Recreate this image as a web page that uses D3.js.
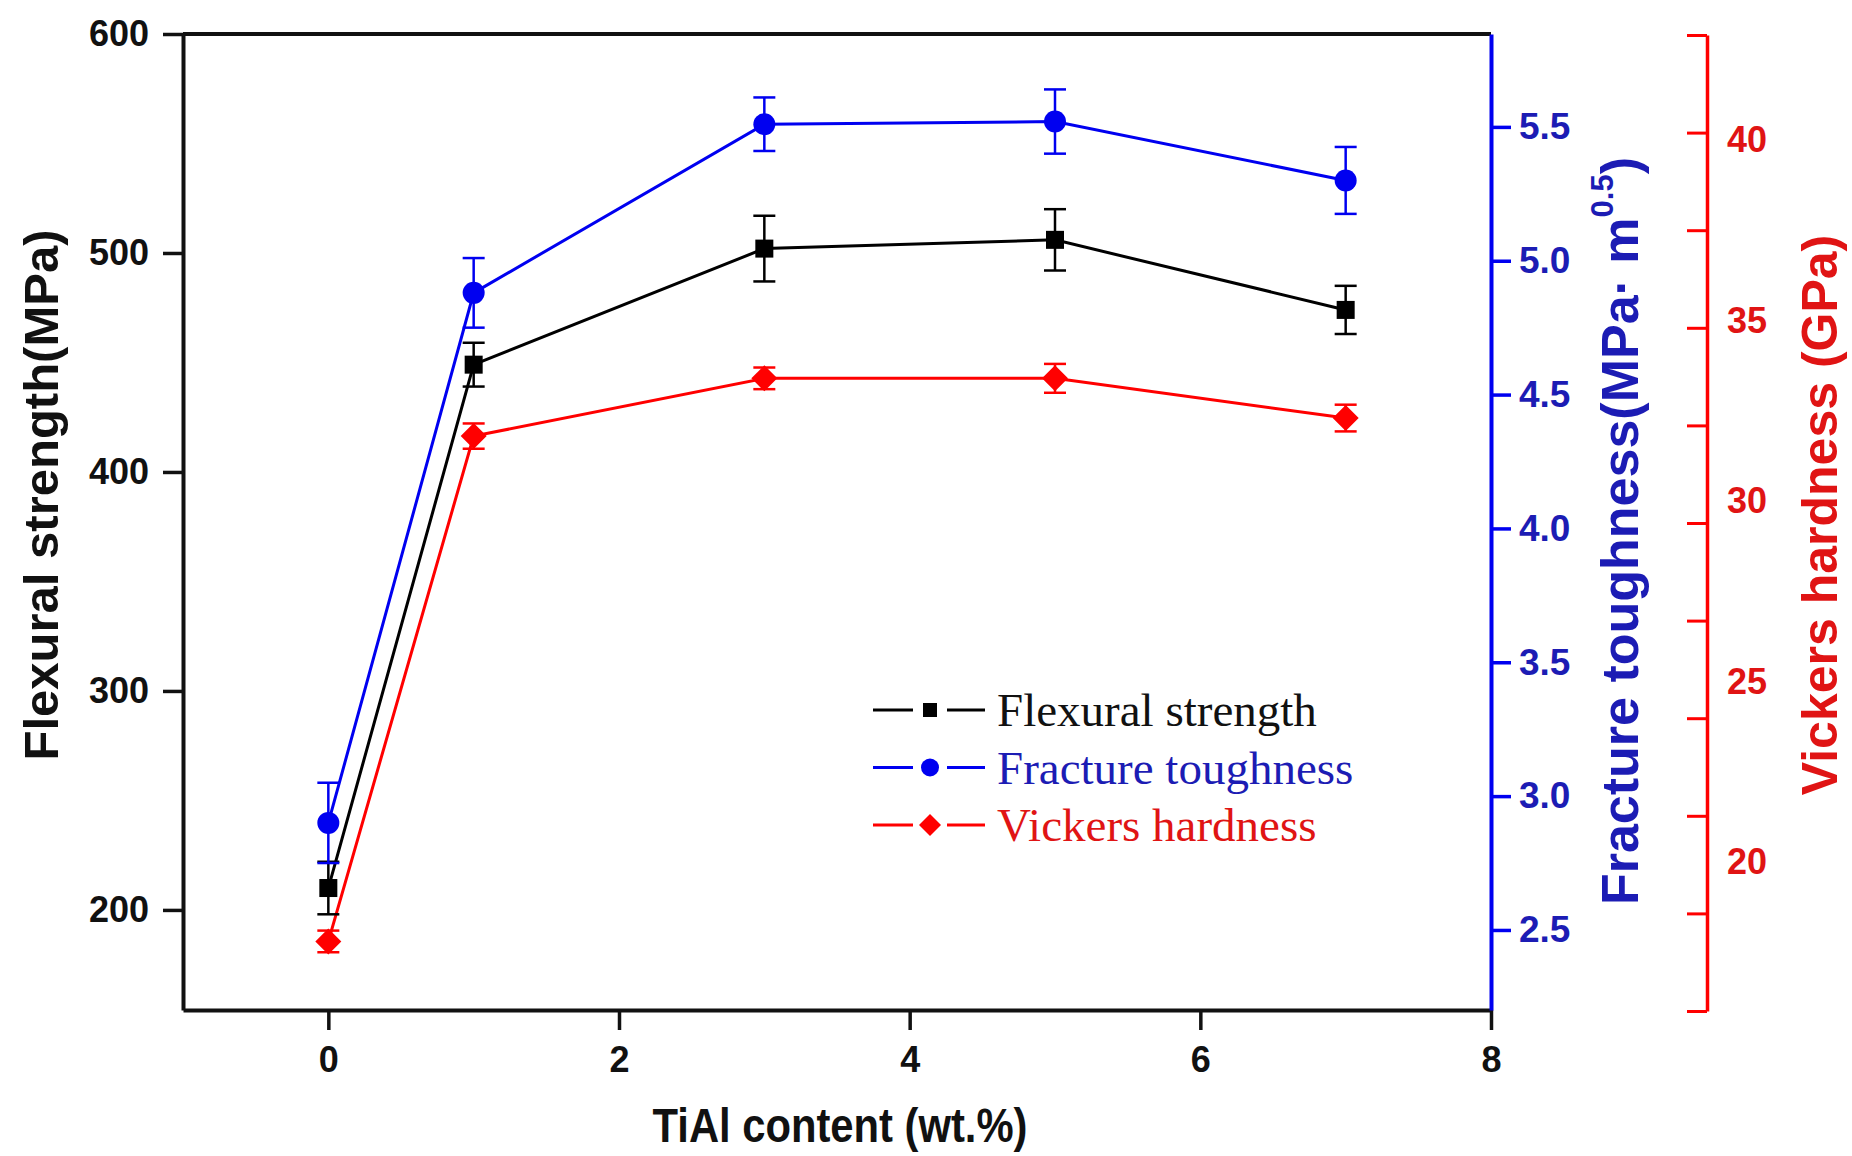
<!DOCTYPE html>
<html><head><meta charset="utf-8">
<script src="https://cdn.jsdelivr.net/npm/d3@7"></script>
<style>
body{margin:0;background:#fff}
svg text{font-family:"Liberation Sans",Arial,sans-serif;font-weight:bold}
</style>
</head><body>
<svg id="c" width="1852" height="1156"></svg>
<script>
// ---------------- data ----------------
const content      = [0, 1, 3, 5, 7];            // TiAl content (wt.%)
const flexural     = [210, 449, 502, 506, 474];  // MPa
const flexuralErr  = [12, 10, 15, 14, 11];
const toughness    = [2.90, 4.88, 5.51, 5.52, 5.30]; // MPa·m^0.5
const toughnessErr = [0.15, 0.13, 0.10, 0.12, 0.125];
const hardness     = [17.8, 31.8, 33.4, 33.4, 32.3]; // GPa
const hardnessErr  = [0.3, 0.35, 0.3, 0.4, 0.37];

const xMajor     = [0, 2, 4, 6, 8];
const xMinor     = [-1, 1, 3, 5, 7];
const leftMajor  = [200, 300, 400, 500, 600];
const leftMinor  = [250, 350, 450, 550];
const blueMajor  = [2.5, 3.0, 3.5, 4.0, 4.5, 5.0, 5.5];
const blueMinor  = [2.25, 2.75, 3.25, 3.75, 4.25, 4.75, 5.25, 5.75];
const redLabels  = [20, 25, 30, 35, 40];
const redMarkMajor = [0, 1, 2, 3, 4, 5, 6, 7, 8, 9, 10];
const redMarkMinor = [0.5, 1.5, 2.5, 3.5, 4.5, 5.5, 6.5, 7.5, 8.5, 9.5];
const seriesNames = ["Flexural strength", "Fracture toughness", "Vickers hardness"];

// ---------------- layout ----------------
const L = 183, R = 1491, T = 34, B = 1010, RED_X = 1707;
const BLUE = "#0000f0", BLUE_T = "#1c1cb4", RED = "#ff0000", RED_T = "#e01414";

const svg = d3.select("#c");
const x  = d3.scaleLinear().domain([-1, 8]).range([L, R]);
const yL = d3.scaleLinear().domain([154.3, 600]).range([B, T]);
const yB = d3.scaleLinear().domain([2.201, 5.847]).range([B, T]);
const yR = d3.scaleLinear().domain([15.9, 42.94]).range([B, T]);
const redMark = d3.scaleLinear().domain([0, 10]).range([1011, 35]);

function styleAxis(g, color, width, fs) {
  g.select(".domain").attr("stroke", color).attr("stroke-width", width);
  g.selectAll(".tick line").attr("stroke", color).attr("stroke-width", width - 0.5);
  g.selectAll(".tick text").attr("fill", color).attr("font-size", fs)
    .attr("font-family", "Liberation Sans, Arial, sans-serif").attr("font-weight", "bold");
}

// bottom axis
const gx = svg.append("g").attr("transform", `translate(0,${B})`);
gx.call(d3.axisBottom(x).tickValues(xMinor).tickSize(12).tickFormat("").tickSizeOuter(0));
gx.call(d3.axisBottom(x).tickValues(xMajor).tickSize(20).tickPadding(16).tickSizeOuter(0).tickFormat(d3.format("d")));
styleAxis(gx, "#111", 4, 36);

// left axis
const gl = svg.append("g").attr("transform", `translate(${L},0)`);
gl.call(d3.axisLeft(yL).tickValues(leftMinor).tickSize(10).tickFormat("").tickSizeOuter(0));
gl.call(d3.axisLeft(yL).tickValues(leftMajor).tickSize(20).tickPadding(14).tickSizeOuter(0));
styleAxis(gl, "#111", 4, 36);

// top frame
svg.append("line").attr("x1", x(-1)).attr("x2", x(8)).attr("y1", yL(600)).attr("y2", yL(600))
  .attr("stroke", "#111").attr("stroke-width", 4);

// blue right axis
const gb = svg.append("g").attr("transform", `translate(${R},0)`);
gb.call(d3.axisRight(yB).tickValues(blueMinor).tickSize(12).tickFormat("").tickSizeOuter(0));
gb.call(d3.axisRight(yB).tickValues(blueMajor).tickSize(20).tickPadding(8).tickSizeOuter(0).tickFormat(d3.format(".1f")));
styleAxis(gb, BLUE, 4, 37);
gb.selectAll(".tick text").attr("fill", BLUE_T);

// red offset axis: tick marks
const gr = svg.append("g").attr("transform", `translate(${RED_X},0)`);
gr.call(d3.axisLeft(redMark).tickValues(redMarkMinor).tickSize(13).tickFormat("").tickSizeOuter(0));
gr.call(d3.axisLeft(redMark).tickValues(redMarkMajor).tickSize(20).tickFormat("").tickSizeOuter(0));
styleAxis(gr, RED, 3.5, 36);
// red labels
const grl = svg.append("g").attr("transform", `translate(${RED_X},0)`);
grl.call(d3.axisRight(yR).tickValues(redLabels).tickSize(0).tickPadding(20).tickSizeOuter(0));
grl.select(".domain").remove();
styleAxis(grl, RED_T, 3, 36);

// ---------------- series ----------------
const series = [
  {vals: flexural,  err: flexuralErr,  y: yL, color: "#000", sym: "square"},
  {vals: toughness, err: toughnessErr, y: yB, color: BLUE,   sym: "circle"},
  {vals: hardness,  err: hardnessErr,  y: yR, color: RED,    sym: "diamond"}
];

function drawSymbol(g, sym, cx, cy, color, s) {
  if (sym === "square") {
    g.append("rect").attr("x", cx - s / 2).attr("y", cy - s / 2).attr("width", s).attr("height", s).attr("fill", color);
  } else if (sym === "circle") {
    g.append("circle").attr("cx", cx).attr("cy", cy).attr("r", s / 2 + 2).attr("fill", color);
  } else {
    const h = s / 2 + 4;
    g.append("path").attr("d", `M${cx},${cy - h}L${cx + h},${cy}L${cx},${cy + h}L${cx - h},${cy}Z`).attr("fill", color);
  }
}

const gs = svg.append("g");
series.forEach(sr => {
  const line = d3.line().x((d, i) => x(content[i])).y(d => sr.y(d));
  gs.append("path").attr("d", line(sr.vals)).attr("fill", "none").attr("stroke", sr.color).attr("stroke-width", 3);
});
series.forEach(sr => {
  const g = gs.append("g");
  sr.vals.forEach((v, i) => {
    const cx = x(content[i]);
    const y1 = sr.y(v + sr.err[i]), y2 = sr.y(v - sr.err[i]);
    g.append("line").attr("x1", cx).attr("x2", cx).attr("y1", y1).attr("y2", y2).attr("stroke", sr.color).attr("stroke-width", 2.5);
    [y1, y2].forEach(yy => g.append("line").attr("x1", cx - 11).attr("x2", cx + 11).attr("y1", yy).attr("y2", yy)
      .attr("stroke", sr.color).attr("stroke-width", 2.5));
    drawSymbol(g, sr.sym, cx, sr.y(v), sr.color, 18);
  });
});

// ---------------- legend ----------------
const legendText = ["#111", BLUE_T, RED_T];
const lg = svg.append("g");
series.forEach((sr, i) => {
  const cy = 710 + i * 57.5;
  lg.append("line").attr("x1", 873).attr("x2", 913).attr("y1", cy).attr("y2", cy).attr("stroke", sr.color).attr("stroke-width", 3);
  lg.append("line").attr("x1", 947).attr("x2", 985).attr("y1", cy).attr("y2", cy).attr("stroke", sr.color).attr("stroke-width", 3);
  drawSymbol(lg, sr.sym, 930, cy, sr.color, 14);
  lg.append("text").attr("x", 997).attr("y", cy + 16).text(seriesNames[i])
    .style("font-family", "'Liberation Serif','Times New Roman',serif").style("font-weight", "normal")
    .attr("font-size", 47).attr("fill", legendText[i]);
});

// ---------------- titles ----------------
svg.append("text").attr("transform", "translate(58,495) rotate(-90)").attr("text-anchor", "middle")
  .attr("font-size", 49).attr("fill", "#111").text("Flexural strength(MPa)");
svg.append("text").attr("transform", "translate(840,1142) scale(0.87,1)").attr("text-anchor", "middle")
  .attr("font-size", 48).attr("fill", "#111").text("TiAl content (wt.%)");

const bt = svg.append("text").attr("transform", "translate(1638,531) rotate(-90)").attr("text-anchor", "middle")
  .attr("font-size", 52).attr("fill", BLUE_T);
bt.append("tspan").text("Fracture toughness(MPa\u00B7 m");
bt.append("tspan").attr("font-size", 31).attr("dy", -25).text("0.5");
bt.append("tspan").attr("dy", 25).text(")");

svg.append("text").attr("transform", "translate(1837,515) rotate(-90)").attr("text-anchor", "middle")
  .attr("font-size", 50).attr("fill", RED_T).text("Vickers hardness (GPa)");
</script>
</body></html>
